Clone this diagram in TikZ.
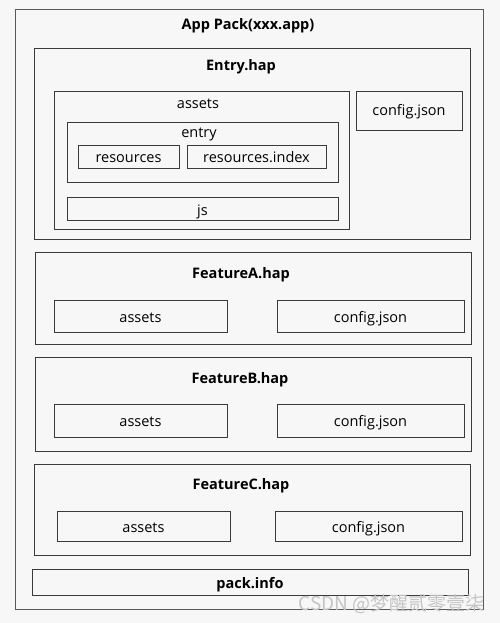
\documentclass[tikz,border=0pt]{standalone}
\usepackage{fontspec}
\setmainfont{Open Sans}
\newfontfamily\cjk{Noto Sans CJK SC}
\definecolor{bg}{HTML}{F7F7F7}
\definecolor{ln}{HTML}{3A3A3A}
\definecolor{wm}{HTML}{C4C4C4}
\newcommand{\bx}[6]{\node[#1, minimum width={(#4-#2)*1pt}, minimum height={(#5-#3)*1pt}, anchor=north west] (#6) at (#2,#3) {};}
\begin{document}
\begin{tikzpicture}[x=1pt,y=-1pt,
  box/.style={draw=ln, line width=0.8pt, inner sep=0pt, fill=bg},
  outerbox/.style={draw=ln!85, line width=1.2pt, inner sep=0pt, fill=bg},
  lbl/.style={font=\fontsize{14.5}{16}\selectfont, text=black, inner sep=0pt, anchor=base},
  ttl/.style={font=\bfseries\fontsize{14.5}{16}\selectfont, text=black, inner sep=0pt, anchor=base}]
\fill[bg] (0,0) rectangle (500,623);
\useasboundingbox (0,0) rectangle (500,623);
\bx{outerbox}{15}{9}{483}{609}{app}
\node[ttl] (apptitle) at (248,30) {App Pack(xxx.app)};
% Entry
\bx{box}{34}{48}{470}{239}{entry}
\node[ttl] (entrytitle) at (241,71) {Entry.hap};
\bx{box}{54}{91}{349}{229}{eassets}
\node[lbl] (eassetstitle) at (198,109) {assets};
\bx{box}{67}{122}{338}{182}{eentry}
\node[lbl] (eentrytitle) at (199,137) {entry};
\bx{box}{78}{145}{179}{168}{eres}
\node[lbl] (eresl) at (128.5,162) {resources};
\bx{box}{187}{145}{326}{168}{eresidx}
\node[lbl] (eresidxl) at (256.5,162) {resources.index};
\bx{box}{67}{197}{338}{220}{ejs}
\node[lbl] (ejsl) at (202.5,215) {js};
\bx{box}{356}{91}{462}{130}{econf}
\node[lbl] (econfl) at (409,116) {config.json};
% FeatureA
\bx{box}{35}{252}{471}{344}{fa}
\node[ttl] (fatitle) at (241,278) {FeatureA.hap};
\bx{box}{54}{300}{227}{332}{faassets}
\node[lbl] (faassetsl) at (140.5,322) {assets};
\bx{box}{277}{300}{464}{332}{faconf}
\node[lbl] (faconfl) at (370.5,322) {config.json};
% FeatureB
\bx{box}{35}{357}{471}{451}{fb}
\node[ttl] (fbtitle) at (240,383) {FeatureB.hap};
\bx{box}{54}{404}{227}{437}{fbassets}
\node[lbl] (fbassetsl) at (140.5,426) {assets};
\bx{box}{277}{404}{464}{437}{fbconf}
\node[lbl] (fbconfl) at (370.5,426) {config.json};
% FeatureC
\bx{box}{34}{464}{470}{555}{fc}
\node[ttl] (fctitle) at (241,489) {FeatureC.hap};
\bx{box}{57}{511}{230}{541}{fcassets}
\node[lbl] (fcassetsl) at (143.5,532) {assets};
\bx{box}{275}{511}{462}{541}{fcconf}
\node[lbl] (fcconfl) at (368.5,532) {config.json};
% pack.info
\bx{box}{32}{569}{468}{595}{pack}
\node[ttl] (packl) at (250,588) {pack.info};
% watermark
\node[font=\cjk\fontsize{19}{21}\selectfont, text=wm, anchor=east, inner sep=0pt] (wmark) at (485,604) {CSDN @梦醒贰零壹柒};
\end{tikzpicture}
\end{document}
